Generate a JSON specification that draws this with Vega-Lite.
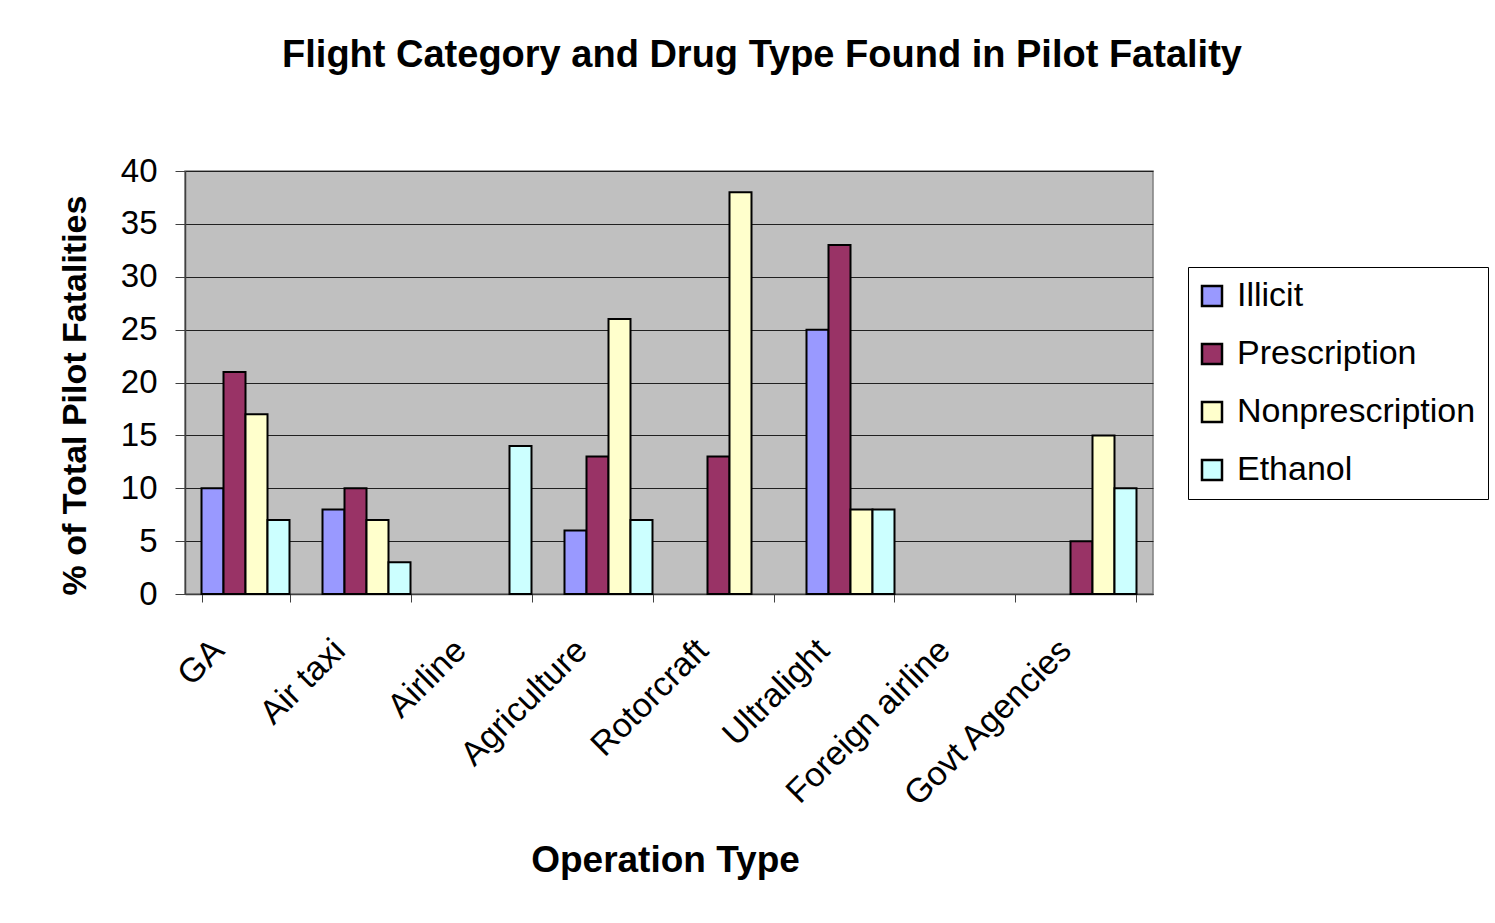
{
  "$schema": "https://vega.github.io/schema/vega-lite/v6.json",
  "autosize": {"type": "none"},
  "padding": {"left": 185, "top": 171, "right": 342, "bottom": 329},
  "width": 968,
  "height": 423,
  "background": "white",
  "title": {
    "text": "Flight Category and Drug Type Found in Pilot Fatality",
    "font": "Liberation Sans",
    "fontSize": 38,
    "fontWeight": "bold",
    "color": "black",
    "anchor": "middle",
    "frame": "group",
    "dx": 93,
    "offset": 80
  },
  "data": {
    "values": [
      {"op": "GA", "drug": "Illicit", "pct": 10},
      {"op": "GA", "drug": "Prescription", "pct": 21},
      {"op": "GA", "drug": "Nonprescription", "pct": 17},
      {"op": "GA", "drug": "Ethanol", "pct": 7},
      {"op": "Air taxi", "drug": "Illicit", "pct": 8},
      {"op": "Air taxi", "drug": "Prescription", "pct": 10},
      {"op": "Air taxi", "drug": "Nonprescription", "pct": 7},
      {"op": "Air taxi", "drug": "Ethanol", "pct": 3},
      {"op": "Airline", "drug": "Ethanol", "pct": 14},
      {"op": "Agriculture", "drug": "Illicit", "pct": 6},
      {"op": "Agriculture", "drug": "Prescription", "pct": 13},
      {"op": "Agriculture", "drug": "Nonprescription", "pct": 26},
      {"op": "Agriculture", "drug": "Ethanol", "pct": 7},
      {"op": "Rotorcraft", "drug": "Prescription", "pct": 13},
      {"op": "Rotorcraft", "drug": "Nonprescription", "pct": 38},
      {"op": "Ultralight", "drug": "Illicit", "pct": 25},
      {"op": "Ultralight", "drug": "Prescription", "pct": 33},
      {"op": "Ultralight", "drug": "Nonprescription", "pct": 8},
      {"op": "Ultralight", "drug": "Ethanol", "pct": 8},
      {"op": "Govt Agencies", "drug": "Prescription", "pct": 5},
      {"op": "Govt Agencies", "drug": "Nonprescription", "pct": 15},
      {"op": "Govt Agencies", "drug": "Ethanol", "pct": 10}
    ]
  },
  "mark": {"type": "bar", "stroke": "black", "strokeWidth": 2, "opacity": 1},
  "encoding": {
    "x": {
      "field": "op",
      "type": "nominal",
      "sort": null,
      "scale": {
        "domain": ["GA", "Air taxi", "Airline", "Agriculture", "Rotorcraft", "Ultralight", "Foreign airline", "Govt Agencies"],
        "paddingInner": 0.2727,
        "paddingOuter": 0.1364
      },
      "axis": {
        "title": "Operation Type",
        "titleFont": "Liberation Sans",
        "titleFontSize": 37,
        "titleFontWeight": "bold",
        "titleColor": "black",
        "titleX": 480,
        "titleY": 266,
        "titleBaseline": "middle",
        "labelFont": "Liberation Sans",
        "labelFontSize": 34,
        "labelColor": "black",
        "labelAngle": -45,
        "labelAlign": "right",
        "labelBaseline": "middle",
        "labelOffset": -27,
        "labelPadding": 43,
        "labelLimit": 500,
        "tickBand": "extent",
        "tickSize": 8,
        "tickColor": "#404040",
        "domainColor": "#404040",
        "domainWidth": 1.5,
        "grid": false
      }
    },
    "xOffset": {
      "field": "drug",
      "type": "nominal",
      "scale": {"domain": ["Illicit", "Prescription", "Nonprescription", "Ethanol"], "paddingInner": 0, "paddingOuter": 0}
    },
    "y": {
      "field": "pct",
      "type": "quantitative",
      "scale": {"domain": [0, 40], "nice": false},
      "axis": {
        "title": "% of Total Pilot Fatalities",
        "titleFont": "Liberation Sans",
        "titleFontSize": 34,
        "titleFontWeight": "bold",
        "titleColor": "black",
        "titleAngle": -90,
        "titleX": -110,
        "titleY": 224,
        "titleAlign": "center",
        "titleBaseline": "middle",
        "values": [0, 5, 10, 15, 20, 25, 30, 35, 40],
        "labelFont": "Liberation Sans",
        "labelFontSize": 33,
        "labelColor": "black",
        "labelPadding": 18,
        "tickSize": 10,
        "tickColor": "#404040",
        "domainColor": "#404040",
        "domainWidth": 1.5,
        "grid": true,
        "gridColor": "#202020",
        "gridWidth": 1
      }
    },
    "color": {
      "field": "drug",
      "type": "nominal",
      "scale": {
        "domain": ["Illicit", "Prescription", "Nonprescription", "Ethanol"],
        "range": ["#9999FF", "#993366", "#FFFFCC", "#CCFFFF"]
      },
      "legend": {
        "title": null,
        "orient": "none",
        "legendX": 1003,
        "legendY": 96,
        "padding": 12,
        "strokeColor": "black",
        "fillColor": "white",
        "symbolType": "square",
        "symbolSize": 400,
        "symbolStrokeColor": "black",
        "symbolStrokeWidth": 2.5,
        "symbolOpacity": 1,
        "symbolOffset": -5,
        "labelFont": "Liberation Sans",
        "labelFontSize": 34,
        "labelColor": "black",
        "labelOffset": 8,
        "rowPadding": 24,
        "labelLimit": 500
      }
    }
  },
  "config": {
    "view": {"fill": "#C0C0C0", "stroke": "#808080", "strokeWidth": 1.5}
  }
}
